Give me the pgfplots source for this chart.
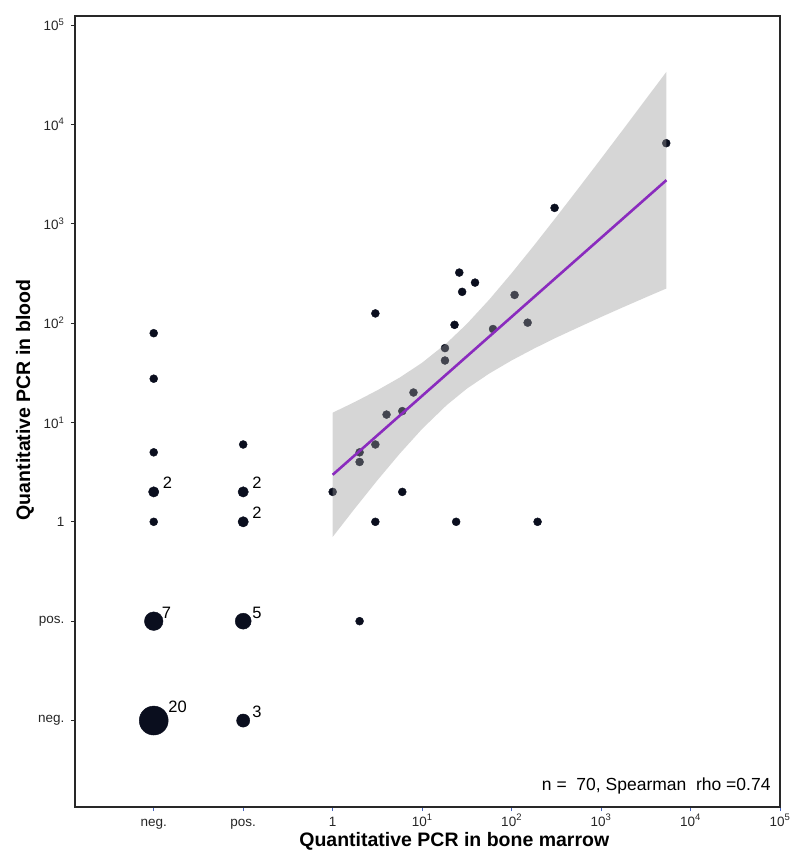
\documentclass[border=0pt]{standalone}
\usepackage{fontspec}
\setmainfont{Liberation Sans}
\usepackage{pgfplots}
\pgfplotsset{compat=1.18}
\definecolor{ptc}{RGB}{10,14,30}
\definecolor{fitc}{RGB}{138,43,190}
\definecolor{tickblue}{RGB}{70,100,190}
\definecolor{framec}{RGB}{40,40,40}
\begin{document}
\begin{tikzpicture}
\begin{axis}[
  x=89.5pt, y=99.4pt,
  xmin=-2.88, xmax=5.0, ymin=-2.87, ymax=5.09,
  clip mode=individual,
  axis line style={framec, line width=1.3pt},
  tick pos=left,
  tick align=outside,
  xtick={-2,-1,0,1,2,3,4,5},
  xticklabels={neg., pos., 1, 10\textsuperscript{1}, 10\textsuperscript{2}, 10\textsuperscript{3}, 10\textsuperscript{4}, 10\textsuperscript{5}},
  ytick={-2,-1,0,1,2,3,4,5},
  yticklabels={neg., pos., 1, 10\textsuperscript{1}, 10\textsuperscript{2}, 10\textsuperscript{3}, 10\textsuperscript{4}, 10\textsuperscript{5}},
  xtick style={tickblue, line width=0.8pt},
  ytick style={framec, line width=0.8pt},
  major tick length=4pt,
  tick label style={font=\fontsize{13.5}{15}\selectfont, text=black!85},
  xticklabel style={anchor=base, yshift=-15pt},
  yticklabel style={xshift=-3pt},
  xlabel={Quantitative PCR in bone marrow},
  ylabel={Quantitative PCR in blood},
  label style={font=\bfseries\fontsize{19.5}{24}\selectfont},
  xlabel style={at={(axis description cs:0.538,0)}, anchor=center, yshift=-34pt},
  ylabel style={at={(axis description cs:0,0.5146)}, anchor=center, yshift=50pt},
]
% singles
\addplot[only marks, mark=*, mark size=4pt, color=ptc] coordinates {
  (-2,1.898) (-2,1.440) (-2,0.699) (-2,0)
  (-1,0.778)
  (0,0.301) (0.477,2.097) (0.301,0.699) (0.301,0.602) (0.477,0.778)
  (0.602,1.079) (0.778,1.114) (0.903,1.301) (0.778,0.301) (0.477,0)
  (1.380,0) (2.290,0) (1.255,1.748) (1.255,1.623) (1.362,1.982)
  (1.415,2.508) (1.447,2.314) (1.591,2.407) (1.792,1.940) (2.033,2.283)
  (2.179,2.004) (2.480,3.159) (3.728,3.810) (0.301,-1)
};
% count 2
\addplot[only marks, mark=*, mark size=5.2pt, color=ptc] coordinates {
  (-2,0.301) (-1,0.301) (-1,0)
};
% count 3
\addplot[only marks, mark=*, mark size=6.6pt, color=ptc] coordinates {(-1,-2)};
% count 5
\addplot[only marks, mark=*, mark size=8pt, color=ptc] coordinates {(-1,-1)};
% count 7
\addplot[only marks, mark=*, mark size=9.3pt, color=ptc] coordinates {(-2,-1)};
% count 20
\addplot[only marks, mark=*, mark size=14.5pt, color=ptc] coordinates {(-2,-2)};
% confidence band
\addplot[draw=none, fill=black!40, fill opacity=0.4] coordinates {
  (0,1.098) (0.25,1.207) (0.5,1.324) (0.75,1.452) (1.0,1.601) (1.274,1.798)
  (1.5,1.992) (1.75,2.236) (2.0,2.502) (2.25,2.781) (2.5,3.068) (2.75,3.360)
  (3.0,3.655) (3.25,3.953) (3.5,4.253) (3.73,4.528)
  (3.73,2.348) (3.5,2.259) (3.25,2.161) (3.0,2.061) (2.75,1.958) (2.5,1.854)
  (2.25,1.743) (2.0,1.624) (1.75,1.492) (1.5,1.340) (1.274,1.174) (1.0,0.935)
  (0.75,0.686) (0.5,0.418) (0.25,0.137) (0,-0.152)
} -- cycle;
% fit line
\addplot[fitc, line width=2.6pt] coordinates {(0,0.473) (3.73,3.438)};
% counts
\begin{scope}[every node/.style={font=\fontsize{16.5}{18}\selectfont, anchor=west, inner sep=0pt}]
\node[xshift=9pt, yshift=9pt] at (axis cs:-2,0.301) {2};
\node[xshift=8pt, yshift=8pt] at (axis cs:-2,-1) {7};
\node[xshift=14.5pt, yshift=14pt] at (axis cs:-2,-2) {20};
\node[xshift=9pt, yshift=9pt] at (axis cs:-1,0.301) {2};
\node[xshift=9pt, yshift=9pt] at (axis cs:-1,0) {2};
\node[xshift=9pt, yshift=8pt] at (axis cs:-1,-1) {5};
\node[xshift=9pt, yshift=8.5pt] at (axis cs:-1,-2) {3};
\end{scope}
\node[anchor=east, font=\fontsize{17.5}{20}\selectfont, xshift=-6pt, yshift=21pt] at (rel axis cs:1,0) {n =\ \ 70, Spearman\ \ rho =0.74};
\end{axis}
\pgfresetboundingbox
\path ([shift={(-75pt,-48pt)}]current axis.south west) rectangle ([shift={(14pt,16pt)}]current axis.north east);
\end{tikzpicture}
\end{document}
